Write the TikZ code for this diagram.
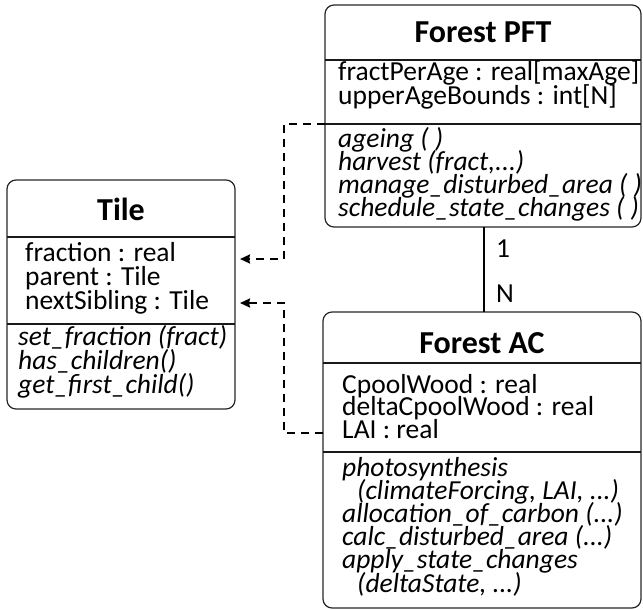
\documentclass[tikz,border=0pt]{standalone}
\usepackage{fontspec}
\setmainfont{Carlito}
\usetikzlibrary{arrows.meta}
\begin{document}
\begin{tikzpicture}[x=1pt,y=-1pt,
  box/.style={draw=black!85,line width=1.2pt,rounded corners=9pt},
  sep/.style={line width=2.4pt,draw=black!90},
  ttl/.style={anchor=base,inner sep=0pt,font=\fontsize{32}{34}\selectfont\bfseries},
  attr/.style={anchor=base west,inner sep=0pt,font=\fontsize{27.5}{29}\selectfont},
  meth/.style={anchor=base west,inner sep=0pt,font=\fontsize{27.5}{29}\selectfont\itshape},
  dep/.style={line width=2pt,dash pattern=on 8pt off 6pt,-{Stealth[length=10pt,width=9pt,inset=1pt]}},
  assoc/.style={line width=2pt}]
\useasboundingbox (0,0) rectangle (643,610);
% Tile
\draw[box] (7,180) rectangle (235,409);
\draw[sep] (7,237) -- (235,237);
\draw[sep] (7,324) -- (235,324);
\node[ttl] (tileT) at (121,220) {Tile};
\node[attr] (t1) at (25,261) {fraction : real};
\node[attr] (t2) at (25,285) {parent : Tile};
\node[attr] (t3) at (25,309) {nextSibling : Tile};
\node[meth] (t4) at (18,345) {set\_fraction (fract)};
\node[meth] (t5) at (18,369) {has\_children()};
\node[meth] (t6) at (18,393) {get\_first\_child()};
% Forest PFT
\draw[box] (325,5) rectangle (641,227);
\draw[sep] (325,60) -- (641,60);
\draw[sep] (325,124) -- (641,124);
\node[ttl] (pftT) at (483,43) {Forest PFT};
\node[attr] (p1) at (338,81) {fractPerAge : real[maxAge]};
\node[attr] (p2) at (338,104) {upperAgeBounds : int[N]};
\node[meth] (p3) at (338,147) {ageing ( )};
\node[meth] (p4) at (338,170) {harvest (fract,...)};
\node[meth] (p5) at (338,193) {manage\_disturbed\_area ( )};
\node[meth] (p6) at (338,216) {schedule\_state\_changes ( )};
% Forest AC
\draw[box] (323,312) rectangle (641,608);
\draw[sep] (323,363) -- (641,363);
\draw[sep] (323,452) -- (641,452);
\node[ttl] (acT) at (482,353) {Forest AC};
\node[attr] (a1) at (342,393) {CpoolWood : real};
\node[attr] (a2) at (342,415) {deltaCpoolWood : real};
\node[attr] (a3) at (342,438) {LAI : real};
\node[meth] (a4) at (342,476) {photosynthesis};
\node[meth] (a5) at (357,499) {(climateForcing, LAI, ...)};
\node[meth] (a6) at (342,522) {allocation\_of\_carbon (...)};
\node[meth] (a7) at (342,545) {calc\_disturbed\_area (...)};
\node[meth] (a8) at (342,568) {apply\_state\_changes};
\node[meth] (a9) at (357,592) {(deltaState, ...)};
% connectors
\coordinate (pftL) at (325,124);
\coordinate (acL) at (323,433);
\coordinate (tileA) at (240,259);
\coordinate (tileB) at (240,303);
\draw[dep] (pftL) -- (284,124) -- (284,259) -- (tileA);
\draw[dep] (acL) -- (284,433) -- (284,303) -- (tileB);
\coordinate (pftB) at (484,227);
\coordinate (acTop) at (484,312);
\draw[assoc] (pftB) -- (acTop);
\node[attr] (one) at (496,257) {1};
\node[attr] (n) at (496,302) {N};
\end{tikzpicture}
\end{document}
